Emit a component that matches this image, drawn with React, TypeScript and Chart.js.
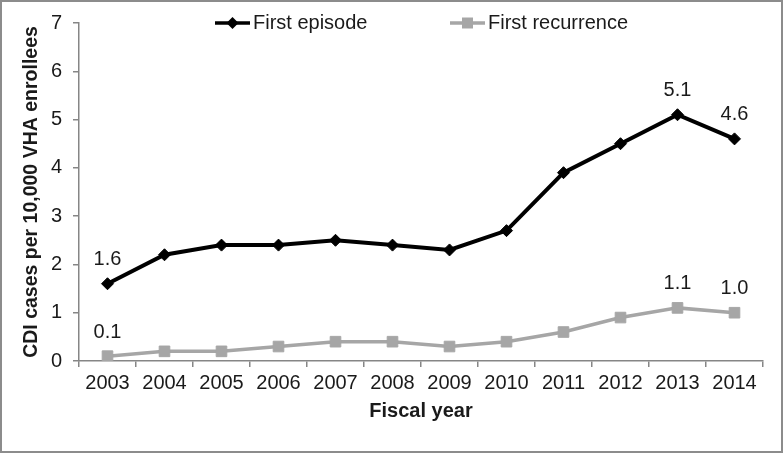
import React, { useEffect, useRef } from 'react';
import { Chart, registerables } from 'chart.js';

Chart.register(...registerables);

const years = ['2003', '2004', '2005', '2006', '2007', '2008', '2009', '2010', '2011', '2012', '2013', '2014'];
const firstEpisode = [1.6, 2.2, 2.4, 2.4, 2.5, 2.4, 2.3, 2.7, 3.9, 4.5, 5.1, 4.6];
const firstRecurrence = [0.1, 0.2, 0.2, 0.3, 0.4, 0.4, 0.3, 0.4, 0.6, 0.9, 1.1, 1.0];
const labelledIndices = [0, 10, 11];
const yMin = 0;
const yMax = 7;
const yStep = 1;
const seriesNames = ['First episode', 'First recurrence'];
const xTitle = 'Fiscal year';
const yTitle = 'CDI cases per 10,000 VHA enrollees';

const FONT = "'Liberation Sans', Arial, sans-serif";
const BLACK = '#000000';
const GRAY = '#a6a6a6';
const AXIS = '#868686';
const TEXT = '#1a1a1a';

const decorPlugin = {
  id: 'decor',
  beforeDraw(chart: any) {
    const { ctx, width, height } = chart;
    ctx.save();
    ctx.fillStyle = '#ffffff';
    ctx.fillRect(0, 0, width, height);
    ctx.restore();
  },
  afterDraw(chart: any) {
    const { ctx, width, height } = chart;
    ctx.save();
    // value labels
    ctx.font = `20px ${FONT}`;
    ctx.fillStyle = TEXT;
    ctx.textAlign = 'center';
    ctx.textBaseline = 'middle';
    chart.data.datasets.forEach((ds: any, di: number) => {
      const meta = chart.getDatasetMeta(di);
      labelledIndices.forEach((i) => {
        const pt = meta.data[i];
        if (!pt) return;
        ctx.fillText(Number(ds.data[i]).toFixed(1), pt.x, pt.y - 24);
      });
    });
    // legend
    const ly = 23;
    const entries = [
      { x: 215, color: BLACK, style: 'diamond', text: seriesNames[0] },
      { x: 450, color: GRAY, style: 'square', text: seriesNames[1] },
    ];
    entries.forEach((e) => {
      ctx.strokeStyle = e.color;
      ctx.lineWidth = 3.5;
      ctx.beginPath();
      ctx.moveTo(e.x, ly);
      ctx.lineTo(e.x + 35, ly);
      ctx.stroke();
      const cx = e.x + 17.5;
      ctx.fillStyle = e.color;
      ctx.beginPath();
      if (e.style === 'diamond') {
        ctx.moveTo(cx - 6, ly);
        ctx.lineTo(cx, ly - 6);
        ctx.lineTo(cx + 6, ly);
        ctx.lineTo(cx, ly + 6);
        ctx.closePath();
      } else {
        ctx.rect(cx - 5.5, ly - 5.5, 11, 11);
      }
      ctx.fill();
      ctx.fillStyle = TEXT;
      ctx.textAlign = 'left';
      ctx.textBaseline = 'middle';
      ctx.fillText(e.text, e.x + 38, ly);
    });
    // outer frame
    ctx.strokeStyle = '#8c8c8c';
    ctx.lineWidth = 2;
    ctx.strokeRect(1, 1, width - 3, height - 3);
    ctx.restore();
  },
};

export default function App() {
  const ref = useRef<HTMLCanvasElement | null>(null);
  useEffect(() => {
    if (!ref.current) return;
    const chart = new Chart(ref.current, {
      type: 'line',
      data: {
        labels: years,
        datasets: [
          {
            label: seriesNames[0],
            data: firstEpisode,
            borderColor: BLACK,
            backgroundColor: BLACK,
            borderWidth: 4,
            pointStyle: 'rectRot',
            pointRadius: 6,
            pointBorderWidth: 1,
            pointBackgroundColor: BLACK,
            pointBorderColor: BLACK,
            tension: 0,
          },
          {
            label: seriesNames[1],
            data: firstRecurrence,
            borderColor: GRAY,
            backgroundColor: GRAY,
            borderWidth: 3.5,
            pointStyle: 'rect',
            pointRadius: 7.5,
            pointBorderWidth: 1,
            pointBackgroundColor: GRAY,
            pointBorderColor: GRAY,
            tension: 0,
          },
        ],
      },
      options: {
        responsive: false,
        animation: false,
        events: [],
        layout: { padding: { top: 16, right: 21, bottom: 0, left: 0 } },
        plugins: {
          legend: { display: false },
          tooltip: { enabled: false },
        },
        scales: {
          x: {
            type: 'category',
            offset: true,
            afterFit: (s: any) => {
              s.height = 93;
            },
            grid: {
              offset: true,
              drawOnChartArea: false,
              drawTicks: true,
              tickLength: 6,
              color: AXIS,
              lineWidth: 1.5,
            },
            border: { display: true, color: AXIS, width: 1.5 },
            ticks: {
              color: TEXT,
              font: { family: FONT, size: 20 },
              padding: 4,
              maxRotation: 0,
              autoSkip: false,
            },
            title: {
              display: true,
              text: xTitle,
              color: TEXT,
              font: { family: FONT, size: 20, weight: 'bold' },
              padding: { top: 0, bottom: 31 },
            },
          },
          y: {
            min: yMin,
            max: yMax,
            afterFit: (s: any) => {
              s.width = 79;
            },
            grid: {
              drawOnChartArea: false,
              drawTicks: true,
              tickLength: 6,
              color: AXIS,
              lineWidth: 1.5,
            },
            border: { display: true, color: AXIS, width: 1.5 },
            ticks: {
              stepSize: yStep,
              color: TEXT,
              font: { family: FONT, size: 20 },
              padding: 11,
            },
            title: {
              display: true,
              text: yTitle,
              color: TEXT,
              font: { family: FONT, size: 19.5, weight: 'bold' },
              padding: { top: 20, bottom: 0 },
            },
          },
        },
      },
      plugins: [decorPlugin],
    } as any);
    return () => chart.destroy();
  }, []);
  return (
    <div style={{ position: 'fixed', left: 0, top: 0, width: 784, height: 454 }}>
      <canvas ref={ref} width={784} height={454} style={{ display: 'block', width: 784, height: 454 }} />
    </div>
  );
}
